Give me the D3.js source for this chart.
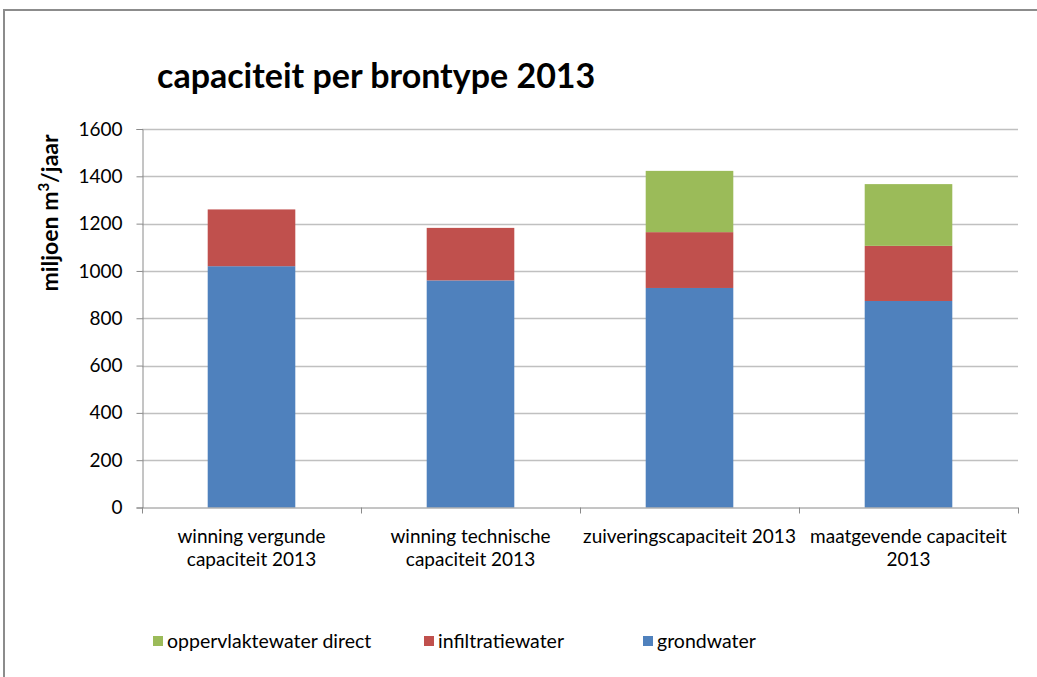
<!DOCTYPE html>
<html>
<head>
<meta charset="utf-8">
<script src="https://cdn.jsdelivr.net/npm/d3@7"></script>
<style>
  html, body { margin: 0; padding: 0; background: #fff; }
  svg { display: block; }
  text { font-family: "Lato", "Open Sans", sans-serif; fill: #000; }
</style>
</head>
<body>
<svg id="chart" width="1037" height="677"></svg>
<script>
// Categories (two-line labels) and stacked series values, in miljoen m³/jaar
const categories = [
  ["winning vergunde", "capaciteit 2013"],
  ["winning technische", "capaciteit 2013"],
  ["zuiveringscapaciteit 2013"],
  ["maatgevende capaciteit", "2013"]
];
const grondwater = [1020, 960, 928, 873];
const infiltratiewater = [240, 222, 236, 233];
const oppervlaktewaterDirect = [0, 0, 259, 261];
const yTicks = [0, 200, 400, 600, 800, 1000, 1200, 1400, 1600];
const seriesNames = ["grondwater", "infiltratiewater", "oppervlaktewater direct"];
const legendOrder = ["oppervlaktewater direct", "infiltratiewater", "grondwater"];
const colors = {
  "grondwater": "#4f81bd",
  "infiltratiewater": "#c0504d",
  "oppervlaktewater direct": "#9bbb59"
};

const rows = categories.map((c, i) => ({
  key: i,
  "grondwater": grondwater[i],
  "infiltratiewater": infiltratiewater[i],
  "oppervlaktewater direct": oppervlaktewaterDirect[i]
}));

const svg = d3.select("#chart");
const margin = { left: 142, right: 1018, top: 129, bottom: 507.5 };

// Outer chart frame (top and left edges)
svg.append("path")
  .attr("d", "M4,677 L4,10 L1037,10")
  .attr("fill", "none")
  .attr("stroke", "#8c8c8c")
  .attr("stroke-width", 2);

const x = d3.scaleBand()
  .domain(d3.range(categories.length))
  .range([margin.left, margin.right])
  .paddingInner(0.6)
  .paddingOuter(0.3);

const y = d3.scaleLinear()
  .domain([0, 1600])
  .range([margin.bottom, margin.top]);

// Horizontal gridlines
svg.append("g")
  .selectAll("line")
  .data(yTicks.filter(d => d > 0))
  .join("line")
  .attr("x1", margin.left)
  .attr("x2", margin.right)
  .attr("y1", d => Math.round(y(d)) + 0.5)
  .attr("y2", d => Math.round(y(d)) + 0.5)
  .attr("stroke", "#c0c0c0")
  .attr("stroke-width", 1.5);

// Y axis
const yAxis = svg.append("g")
  .attr("transform", `translate(${margin.left + 0.5},0)`)
  .call(d3.axisLeft(y).tickValues(yTicks).tickFormat(d3.format("d")).tickSize(6).tickPadding(14));
yAxis.select(".domain").attr("stroke", "#8a8a8a");
yAxis.selectAll(".tick line").attr("stroke", "#8a8a8a");
yAxis.selectAll(".tick text")
  .style("font-size", "19px")
  .style("font-family", "Lato, sans-serif")
  .attr("fill", "#000");

// Stacked bars
const stack = d3.stack().keys(seriesNames);
const layers = stack(rows);

svg.append("g")
  .selectAll("g")
  .data(layers)
  .join("g")
  .attr("fill", d => colors[d.key])
  .selectAll("rect")
  .data(d => d.filter(s => s[1] - s[0] > 0))
  .join("rect")
  .attr("x", d => x(d.data.key))
  .attr("width", x.bandwidth())
  .attr("y", d => y(d[1]))
  .attr("height", d => y(d[0]) - y(d[1]));

// X axis with category boundaries
const xg = svg.append("g");
xg.append("line")
  .attr("x1", margin.left).attr("x2", margin.right)
  .attr("y1", margin.bottom + 0.5).attr("y2", margin.bottom + 0.5)
  .attr("stroke", "#8a8a8a");
const step = (margin.right - margin.left) / categories.length;
xg.selectAll("line.sep")
  .data(d3.range(categories.length + 1))
  .join("line")
  .attr("class", "sep")
  .attr("x1", i => Math.round(margin.left + i * step) + 0.5)
  .attr("x2", i => Math.round(margin.left + i * step) + 0.5)
  .attr("y1", margin.bottom)
  .attr("y2", margin.bottom + 6)
  .attr("stroke", "#8a8a8a");

// Category labels
xg.selectAll("text.cat")
  .data(categories)
  .join("text")
  .attr("class", "cat")
  .attr("text-anchor", "middle")
  .attr("x", (d, i) => x(i) + x.bandwidth() / 2)
  .attr("y", 543)
  .style("font-size", "19px")
  .selectAll("tspan")
  .data(d => d)
  .join("tspan")
  .attr("x", function () { return d3.select(this.parentNode).attr("x"); })
  .attr("dy", (d, i) => i === 0 ? 0 : 23)
  .text(d => d);

// Title
svg.append("text")
  .attr("x", 157)
  .attr("y", 88)
  .style("font-size", "34px")
  .style("font-weight", "bold")
  .text("capaciteit per brontype 2013");

// Y axis title
const yt = svg.append("text")
  .attr("transform", "translate(58,213) rotate(-90)")
  .attr("text-anchor", "middle")
  .style("font-size", "23px")
  .style("font-weight", "bold");
yt.append("tspan").text("miljoen m");
yt.append("tspan").attr("baseline-shift", "super").style("font-size", "15px").text("3");
yt.append("tspan").text("/jaar");

// Legend
const legendX = [153, 424, 643];
const lg = svg.append("g")
  .selectAll("g")
  .data(legendOrder)
  .join("g")
  .attr("transform", (d, i) => `translate(${legendX[i]},636)`);
lg.append("rect")
  .attr("width", 10).attr("height", 10)
  .attr("fill", d => colors[d]);
lg.append("text")
  .attr("x", 14)
  .attr("y", 12)
  .style("font-size", "19.5px")
  .text(d => d);
</script>
</body>
</html>
